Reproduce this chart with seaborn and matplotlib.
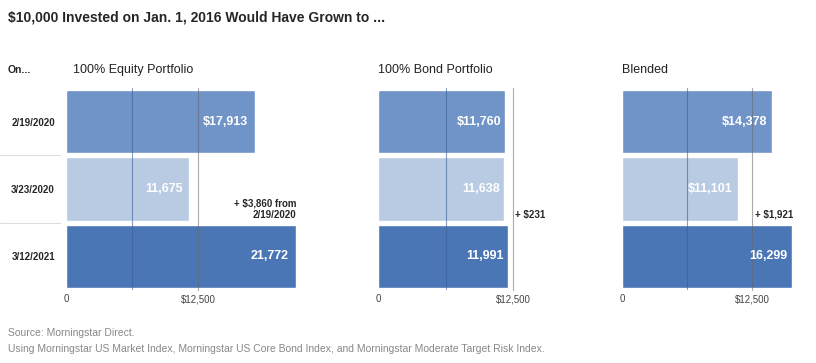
import matplotlib
matplotlib.use('Agg')
import matplotlib.pyplot as plt
import seaborn as sns
import pandas as pd

# chart data
dates = ['2/19/2020', '3/23/2020', '3/12/2021']
equity = [17913, 11675, 21772]
bond = [11760, 11638, 11991]
blended = [14378, 11101, 16299]
equity_labels = ['$17,913', '11,675', '21,772']
bond_labels = ['$11,760', '11,638', '11,991']
blended_labels = ['$14,378', '$11,101', '16,299']
panel_titles = ['100% Equity Portfolio', '100% Bond Portfolio', 'Blended']
gain_notes = ['+ $3,860 from\n2/19/2020', '+ $231', '+ $1,921']

sns.set_style('white')
plt.rcParams['font.family'] = ['Liberation Sans', 'DejaVu Sans']

colors = ['#7094c8', '#b9cae3', '#4b76b6']

fig = plt.figure(figsize=(8.16, 3.63), dpi=100)

# axes boxes in figure fraction: left, width, xmax
boxes = [(66 / 816, 230 / 816, 21772), (378 / 816, 135 / 816, 12500), (622 / 816, 170 / 816, 16299)]
bottom, height = 73 / 363, 202 / 363
series = [equity, bond, blended]
labels = [equity_labels, bond_labels, blended_labels]

for i, (left, width, xmax) in enumerate(boxes):
    ax = fig.add_axes([left, bottom, width, height])
    df = pd.DataFrame({'date': dates, 'value': series[i]})
    sns.barplot(data=df, x='value', y='date', hue='date', palette=colors,
                orient='h', width=0.94, saturation=1, legend=False, ax=ax)
    ax.set_xlim(0, xmax)
    ax.set_ylim(2.5, -0.5)
    sns.despine(ax=ax, left=True, bottom=True)
    ax.set_xlabel('')
    ax.set_ylabel('')
    ax.set_xticks([0, 12500])
    ax.set_xticklabels(['0', '$12,500'], fontsize=7, color='#444444')
    ax.tick_params(axis='x', length=0, pad=3)
    # gridlines drawn on top of the bars
    ax.axvline(6250, color='#3a5f99', lw=0.8, alpha=0.6, zorder=5)
    ax.axvline(12500, color='#666666', lw=0.8, alpha=0.55, zorder=5, clip_on=False)
    for j, v in enumerate(series[i]):
        ax.text(v - xmax * 0.03, j, labels[i][j], ha='right', va='center',
                color='white', fontsize=9, fontweight='bold', zorder=6)
    ax.text(0.03 if i == 0 else 0.0, 1.09, panel_titles[i], transform=ax.transAxes,
            ha='left', va='center', fontsize=9, color='#222222')
    if i == 0:
        ax.set_yticks(range(3))
        ax.set_yticklabels(dates, fontsize=7, fontweight='bold')
        ax.tick_params(axis='y', length=0, pad=8)
        for y in [0.5, 1.5]:
            ax.axhline(y, xmin=-0.287, xmax=-0.026, color='#dddddd', lw=0.8, clip_on=False)
        ax.text(xmax, 1.3, gain_notes[0], ha='right', va='center', fontsize=7,
                fontweight='bold', linespacing=1.2)
        ax.text(-0.252, 1.09, 'On...', transform=ax.transAxes, ha='left', va='center',
                fontsize=7.5, fontweight='bold')
    else:
        ax.set_yticks([])
        ax.text(12500 + xmax * 0.015, 1.38, gain_notes[i], ha='left', va='center',
                fontsize=7, fontweight='bold')

fig.text(8 / 816, 1 - 18 / 363, '$10,000 Invested on Jan. 1, 2016 Would Have Grown to ...',
         ha='left', va='center', fontsize=10, fontweight='bold')
fig.text(8 / 816, 1 - 333 / 363, 'Source: Morningstar Direct.', ha='left', va='center',
         fontsize=7.5, color='#888888')
fig.text(8 / 816, 1 - 349 / 363,
         'Using Morningstar US Market Index, Morningstar US Core Bond Index, and Morningstar Moderate Target Risk Index.',
         ha='left', va='center', fontsize=7.5, color='#888888')

fig.savefig('out.png', dpi=100)
